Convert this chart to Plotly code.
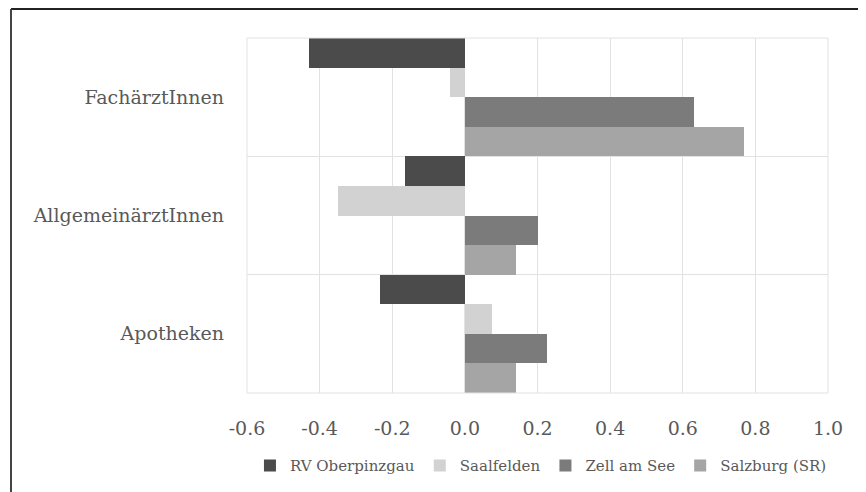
import plotly.graph_objects as go

categories = ["FachärztInnen", "AllgemeinärztInnen", "Apotheken"]
series_names = ["RV Oberpinzgau", "Saalfelden", "Zell am See", "Salzburg (SR)"]
rv_oberpinzgau = [-0.43, -0.165, -0.235]
saalfelden = [-0.04, -0.35, 0.075]
zell_am_see = [0.63, 0.20, 0.225]
salzburg_sr = [0.77, 0.14, 0.14]
colors = ["#4b4b4b", "#d2d2d2", "#7b7b7b", "#a5a5a5"]
x_ticks = [-0.6, -0.4, -0.2, 0.0, 0.2, 0.4, 0.6, 0.8, 1.0]
x_tick_labels = ["-0.6", "-0.4", "-0.2", "0.0", "0.2", "0.4", "0.6", "0.8", "1.0"]

serif = "DejaVu Serif"
txt = "#595959"

fig = go.Figure()
for name, vals, col in zip(series_names,
                           [rv_oberpinzgau, saalfelden, zell_am_see, salzburg_sr],
                           colors):
    fig.add_trace(go.Bar(y=categories, x=vals, name=name, orientation="h",
                         marker=dict(color=col, line=dict(width=0))))

fig.update_layout(
    width=858, height=484,
    barmode="group", bargap=0, bargroupgap=0,
    plot_bgcolor="white", paper_bgcolor="white",
    margin=dict(l=239, r=38, t=30, b=99, autoexpand=False),
    xaxis=dict(range=[-0.6, 1.0], tickvals=x_ticks, ticktext=x_tick_labels,
               showgrid=True, gridcolor="#e2e2e2", gridwidth=1,
               zeroline=False, showline=False, ticks="",
               ticklabelstandoff=22,
               tickfont=dict(family=serif, size=19, color=txt)),
    yaxis=dict(autorange="reversed", tickson="boundaries", showgrid=True,
               gridcolor="#e2e2e2", gridwidth=1, showline=False, ticks="",
               ticklen=0, ticklabelstandoff=22,
               tickfont=dict(family=serif, size=19, color=txt)),
    legend=dict(orientation="h", xref="container", yref="container",
                x=0.282, xanchor="left", y=0.054, yanchor="middle",
                font=dict(family=serif, size=15, color=txt),
                itemwidth=30, traceorder="normal"),
    shapes=[
        dict(type="line", xref="paper", yref="paper", x0=-0.4062, x1=1.1,
             y0=1.0817, y1=1.0817, line=dict(color="#222222", width=2)),
        dict(type="line", xref="paper", yref="paper", x0=-0.4062, x1=-0.4062,
             y0=1.0817, y1=-0.3, line=dict(color="#444444", width=2)),
        dict(type="rect", xref="paper", yref="paper", x0=0, x1=1, y0=0, y1=1,
             line=dict(color="#e2e2e2", width=1)),
    ],
)

fig.write_html("out.html")
